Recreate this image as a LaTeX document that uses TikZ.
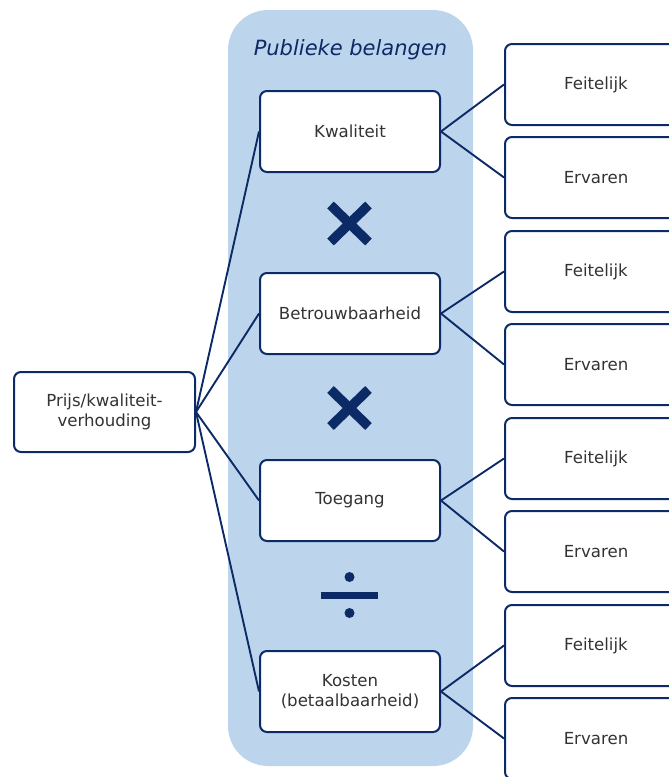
\documentclass[tikz,border=0pt]{standalone}
\usepackage{fontspec}
\setmainfont{DejaVu Sans}
\definecolor{navy}{HTML}{0B2A66}
\definecolor{panel}{HTML}{BDD5EC}
\definecolor{txt}{HTML}{333333}
\begin{document}
\begin{tikzpicture}[x=1pt,y=-1pt,
  box/.style={draw=navy,line width=2pt,rounded corners=7pt,fill=white,
    minimum width=180pt,minimum height=81pt,align=center,text=txt,
    font=\fontsize{16.6}{20}\selectfont,inner sep=0pt},
  rbox/.style={box,minimum width=182pt},
  conn/.style={draw=navy,line width=1.9pt},
  sym/.style={draw=navy,line width=9.5pt}]
\useasboundingbox (0,0) rectangle (669,777);
\clip (0,0) rectangle (669,777);
% panel
\fill[panel,rounded corners=40pt] (228,10) rectangle (473,766);
\node[text=navy,font=\fontsize{21}{24}\selectfont\itshape] (title) at (350.5,50) {Publieke belangen};
% left
\node[box,minimum width=181pt,minimum height=80pt] (pk) at (104.5,412) {Prijs/kwaliteit-\\verhouding};
% middle
\node[box] (kw) at (350,131.5) {Kwaliteit};
\node[box] (be) at (350,313.5) {Betrouwbaarheid};
\node[box] (to) at (350,500.5) {Toegang};
\node[box] (ko) at (350,691.5) {Kosten\\(betaalbaarheid)};
% right
\node[rbox] (f1) at (596,84.5) {Feitelijk};
\node[rbox] (e1) at (596,177.5) {Ervaren};
\node[rbox] (f2) at (596,271.5) {Feitelijk};
\node[rbox] (e2) at (596,364.5) {Ervaren};
\node[rbox] (f3) at (596,458.5) {Feitelijk};
\node[rbox] (e3) at (596,551.5) {Ervaren};
\node[rbox] (f4) at (596,645.5) {Feitelijk};
\node[rbox] (e4) at (596,738.5) {Ervaren};
% connectors
\foreach \m in {kw,be,to,ko} \draw[conn] (pk.east) -- (\m.west);
\draw[conn] (kw.east) -- (f1.west);
\draw[conn] (kw.east) -- (e1.west);
\draw[conn] (be.east) -- (f2.west);
\draw[conn] (be.east) -- (e2.west);
\draw[conn] (to.east) -- (f3.west);
\draw[conn] (to.east) -- (e3.west);
\draw[conn] (ko.east) -- (f4.west);
\draw[conn] (ko.east) -- (e4.west);
% symbols
\foreach \cy in {223.5,408} {
  \draw[sym] (330.5,\cy-18.5) -- (368.5,\cy+18.5);
  \draw[sym] (368.5,\cy-18.5) -- (330.5,\cy+18.5);
}
\fill[navy] (321,592) rectangle (378,599);
\fill[navy] (349.5,577) circle (5pt);
\fill[navy] (349.5,613) circle (5pt);
\end{tikzpicture}
\end{document}
